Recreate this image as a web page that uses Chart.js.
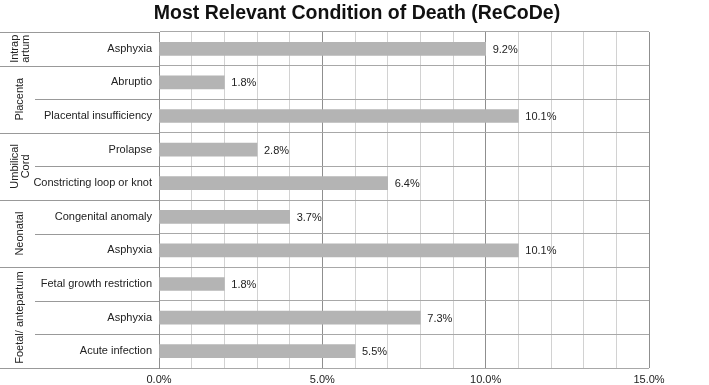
<!DOCTYPE html>
<html>
<head>
<meta charset="utf-8">
<script src="https://cdn.jsdelivr.net/npm/chart.js@4/dist/chart.umd.min.js"></script>
<style>
  html, body { margin: 0; padding: 0; background: #fff; }
  #wrap { width: 709px; height: 385px; }
</style>
</head>
<body>
<div id="wrap"><canvas id="recodeChart"></canvas></div>
<script>
// categories, top to bottom
const conditions = [
  "Asphyxia",
  "Abruptio",
  "Placental insufficiency",
  "Prolapse",
  "Constricting loop or knot",
  "Congenital anomaly",
  "Asphyxia",
  "Fetal growth restriction",
  "Asphyxia",
  "Acute infection"
];
// bar lengths as drawn in the picture (they run to whole-number positions on the axis)
const barLengths = [10, 2, 11, 3, 7, 4, 11, 2, 8, 6];
// the percentages printed next to each bar
const percentLabels = [9.2, 1.8, 10.1, 2.8, 6.4, 3.7, 10.1, 1.8, 7.3, 5.5];

// groups on the left (names split into lines), with how many rows each covers
const groupNames = [["Intrap", "artum"], ["Placenta"], ["Umbilical", "Cord"], ["Neonatal"], ["Foetal/ antepartum"]];
const groupSizes = [1, 2, 2, 2, 3];

const xTicks = [0, 5, 10, 15];
const xTickLabels = ["0.0%", "5.0%", "10.0%", "15.0%"];

const chartTitle = "Most Relevant Condition of Death (ReCoDe)";

const FONT = "'Liberation Sans', Arial, sans-serif";
Chart.defaults.font.family = FONT;
Chart.defaults.color = "#222";

// title over the whole picture (the chart area is off-centre, so draw it ourselves)
const titlePlugin = {
  id: "titlePlugin",
  afterDraw(chart) {
    const ctx = chart.ctx;
    ctx.save();
    ctx.font = "bold 19.5px " + FONT;
    ctx.fillStyle = "#111";
    ctx.textAlign = "center";
    ctx.textBaseline = "middle";
    ctx.fillText(chartTitle, 357, 14);
    ctx.restore();
  }
};

// value labels at the end of each bar
const valueLabels = {
  id: "valueLabels",
  afterDatasetsDraw(chart) {
    const ctx = chart.ctx;
    const meta = chart.getDatasetMeta(0);
    ctx.save();
    ctx.font = "11px " + FONT;
    ctx.fillStyle = "#222";
    ctx.textBaseline = "middle";
    meta.data.forEach((bar, i) => {
      ctx.fillText(percentLabels[i].toFixed(1) + "%", bar.x + 7, bar.y + 1);
    });
    ctx.restore();
  }
};

// group column: separators and rotated group names
const groupColumn = {
  id: "groupColumn",
  afterDraw(chart) {
    const ctx = chart.ctx;
    const area = chart.chartArea;
    const rowH = (area.bottom - area.top) / conditions.length;
    ctx.save();
    ctx.strokeStyle = "#999";
    ctx.lineWidth = 1;
    let row = 0;
    groupSizes.forEach((size, g) => {
      const top = area.top + row * rowH;
      const bottom = top + size * rowH;
      // full-width separator at group edges
      [top, bottom].forEach((y) => {
        ctx.beginPath();
        ctx.moveTo(0, Math.round(y) + 0.5);
        ctx.lineTo(area.left, Math.round(y) + 0.5);
        ctx.stroke();
      });
      // inner separators between rows of the same group
      for (let k = 1; k < size; k++) {
        const y = Math.round(top + k * rowH) + 0.5;
        ctx.beginPath();
        ctx.moveTo(35, y);
        ctx.lineTo(area.left, y);
        ctx.stroke();
      }
      // rotated name
      const lines = groupNames[g];
      ctx.save();
      ctx.translate(20, (top + bottom) / 2);
      ctx.rotate(-Math.PI / 2);
      ctx.font = "11px " + FONT;
      ctx.fillStyle = "#222";
      ctx.textAlign = "center";
      ctx.textBaseline = "middle";
      const lh = 11;
      lines.forEach((t, j) => {
        ctx.fillText(t, 0, (j - (lines.length - 1) / 2) * lh);
      });
      ctx.restore();
      row += size;
    });
    ctx.restore();
  }
};

new Chart(document.getElementById("recodeChart"), {
  type: "bar",
  data: {
    labels: conditions,
    datasets: [{
      data: barLengths,
      backgroundColor: "#b4b4b4",
      barThickness: 13
    }]
  },
  options: {
    indexAxis: "y",
    responsive: true,
    maintainAspectRatio: false,
    animation: false,
    layout: { padding: { left: 0, right: 60, top: 32, bottom: 0 } },
    plugins: {
      legend: { display: false },
      tooltip: { enabled: false },
      title: { display: false }
    },
    scales: {
      x: {
        min: 0,
        max: 15,
        afterFit: (scale) => { scale.height = 17; },
        ticks: {
          stepSize: 1,
          autoSkip: false,
          maxRotation: 0,
          padding: 5,
          font: { size: 11 },
          color: "#222",
          callback: (v) => {
            const k = xTicks.indexOf(v);
            return k >= 0 ? xTickLabels[k] : "";
          }
        },
        grid: {
          drawTicks: false,
          color: (c) => (c.tick && c.tick.value % 5 === 0 ? "#8f8f8f" : "#d2d2d2")
        },
        border: { display: false }
      },
      y: {
        afterFit: (scale) => { scale.width = 159; },
        ticks: {
          padding: 7,
          font: { size: 11 },
          color: "#222"
        },
        grid: {
          offset: true,
          drawTicks: false,
          color: "#a8a8a8"
        },
        border: { display: true, color: "#8f8f8f" }
      }
    }
  },
  plugins: [valueLabels, groupColumn, titlePlugin]
});
</script>
</body>
</html>
